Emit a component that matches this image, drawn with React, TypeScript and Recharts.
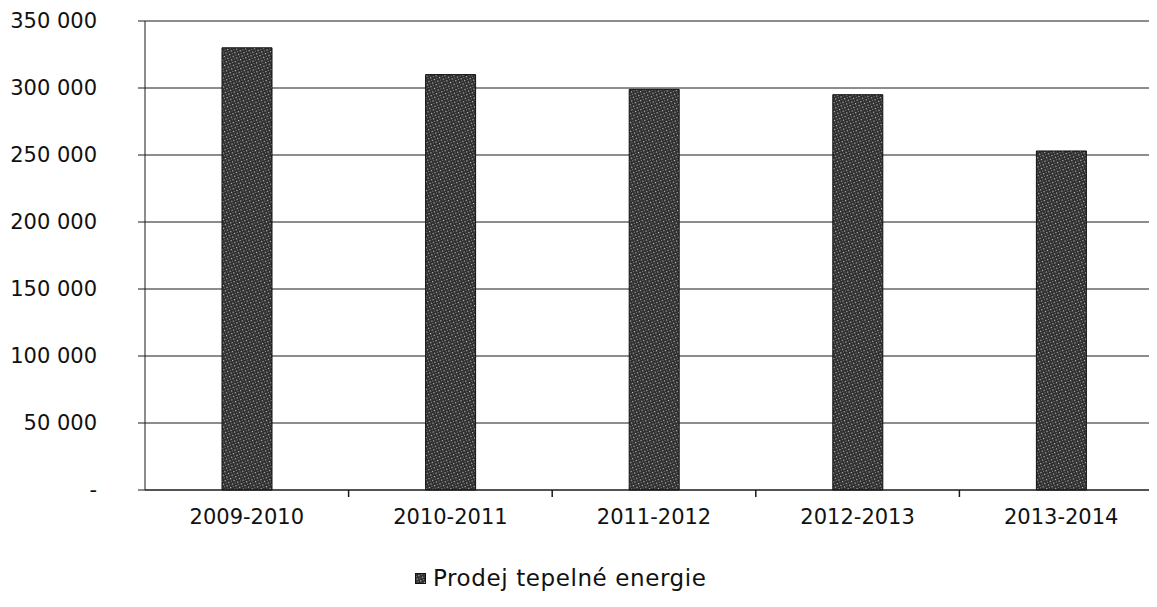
import { Bar, BarChart, CartesianGrid, XAxis, YAxis } from 'recharts';

const periods = ['2009-2010', '2010-2011', '2011-2012', '2012-2013', '2013-2014'];
const heatSales = [330000, 310000, 299000, 295000, 253000];
const yTicks = [0, 50000, 100000, 150000, 200000, 250000, 300000, 350000];
const seriesName = 'Prodej tepelné energie';

const chartData = periods.map((period, i) => ({ period, sales: heatSales[i] }));

const font = '"DejaVu Sans", sans-serif';

function formatThousands(value: number) {
  if (value === 0) return '-';
  return value.toLocaleString('en-US').replace(/,/g, ' ');
}

// category label plus a small mark at the right edge of its band
function PeriodTick(props: any) {
  const { x, y, payload, index } = props;
  const edge = x + (payload.offset || 0);
  return (
    <g>
      {index < periods.length - 1 && (
        <line x1={edge} x2={edge} y1={y} y2={y + 7} stroke="#1a1a1a" strokeWidth={1.5} />
      )}
      <text x={x} y={y + 19} dy="0.71em" textAnchor="middle" fill="#111" fontSize={21} fontFamily={font}>
        {payload.value}
      </text>
    </g>
  );
}

export default function App() {
  return (
    <div style={{ position: 'relative', width: 1149, height: 595, overflow: 'hidden', background: '#fff' }}>
      <BarChart
        width={1158}
        height={595}
        data={chartData}
        margin={{ top: 13, right: 3, left: 0, bottom: 83 }}
        barSize={50}
      >
        <defs>
          <pattern id="speckle" width={4} height={4} patternUnits="userSpaceOnUse" patternTransform="rotate(25)">
            <rect width={4} height={4} fill="#2e2e2e" />
            <rect x={0} y={0} width={1.2} height={1.2} fill="#c8c8c8" />
            <rect x={2} y={2} width={1} height={1} fill="#8a8a8a" />
          </pattern>
        </defs>
        <CartesianGrid vertical={false} stroke="#1a1a1a" strokeWidth={1} />
        <XAxis
          dataKey="period"
          axisLine={{ stroke: '#1a1a1a' }}
          tickLine={false}
          tickSize={0}
          tickMargin={0}
          interval={0}
          height={30}
          tick={<PeriodTick />}
        />
        <YAxis
          width={137}
          domain={[0, 350000]}
          ticks={yTicks}
          interval={0}
          axisLine={{ stroke: '#1a1a1a' }}
          tickLine={{ stroke: '#1a1a1a' }}
          tickSize={7}
          tickMargin={41}
          tickFormatter={formatThousands}
          tick={{ fill: '#111', fontSize: 21, fontFamily: font }}
        />
        <Bar
          dataKey="sales"
          name={seriesName}
          fill="url(#speckle)"
          stroke="#111"
          strokeWidth={1}
          isAnimationActive={false}
        />
      </BarChart>
      <div
        style={{
          position: 'absolute',
          left: 407,
          top: 557,
          display: 'flex',
          alignItems: 'center',
          fontFamily: font,
          fontSize: 23,
          letterSpacing: 0.6,
          color: '#111',
        }}
      >
        <svg width={11} height={11} style={{ marginRight: 7 }}>
          <rect x={0.5} y={0.5} width={10} height={10} fill="url(#speckle)" stroke="#111" />
        </svg>
        {seriesName}
      </div>
    </div>
  );
}
